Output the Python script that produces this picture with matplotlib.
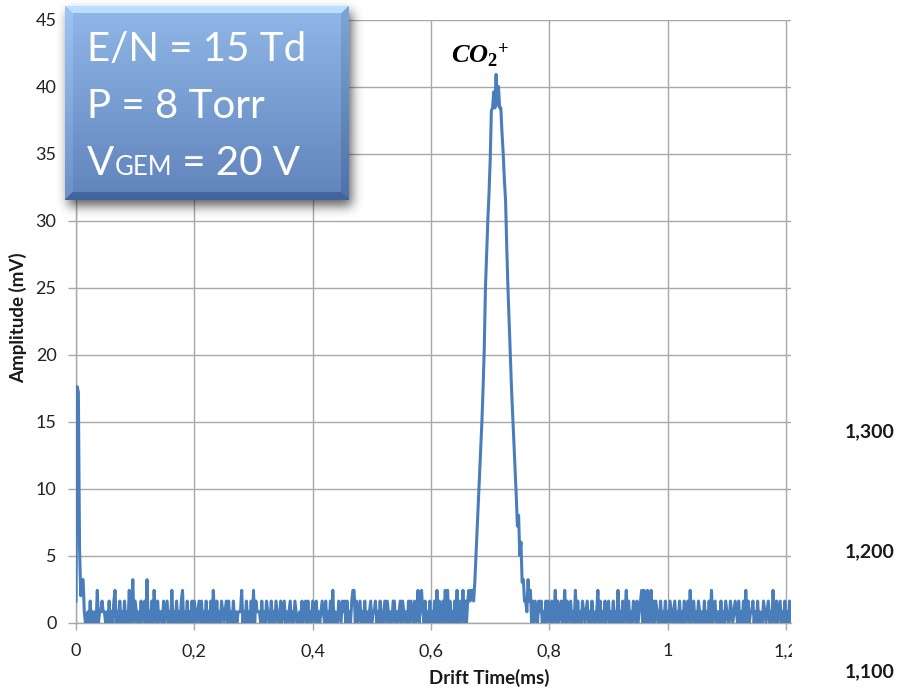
import numpy as np
import matplotlib
matplotlib.use("Agg")
import matplotlib.pyplot as plt
from matplotlib.transforms import Bbox, TransformedBbox

plt.rcParams["mathtext.fontset"] = "custom"
plt.rcParams["mathtext.it"] = "Liberation Serif:italic:bold"
plt.rcParams["mathtext.rm"] = "Liberation Serif:bold"
plt.rcParams["mathtext.bf"] = "Liberation Serif:bold"

W, H = 899, 688
DPI = 100

# ---------------------------------------------------------------- data
sample_step = 0.002   # ms between samples
level_step = 0.8      # mV per digitiser count

# first samples after the trigger (mV)
start_vals = [1.6, 17.6, 17.2, 5.6, 2.0, 3.2, 3.2, 0.8, 0.0]

# baseline before the peak, in digitiser counts
baseline_before = (
    "0102010103" "0112110102" "0102301020" "1020103014" "0210102012"
    "0401020310" "2011020120" "1030102010" "2301020102" "0210120201"
    "0201020310" "2010210120" "2010201011" "1301020102" "0302111020"
    "1021002010" "2100201201" "0120102100" "1020120201" "0210201012"
    "1020102030" "1002102120" "2010233020" "1201020101" "2011201020"
    "0120210102" "2010120210" "1020210201" "3023102010" "2010203020"
    "1203030201" "0203020130" "202323"
)

# CO2+ peak (mV), 0.670 ms to 0.758 ms
peak_vals = [
    2.4, 1.6, 3.0, 5.0, 7.0, 9.0, 11.0, 13.0, 15.0, 17.5,
    20.5, 25.0, 27.5, 30.0, 32.0, 34.5, 38.2, 38.4, 39.6, 38.4,
    40.9, 38.6, 40.0, 38.4, 38.4, 36.5, 35.0, 33.0, 31.5, 28.0,
    25.0, 22.5, 20.0, 17.5, 15.5, 13.5, 11.5, 9.5, 7.2, 8.0,
    5.0, 6.0, 3.0, 3.2, 1.6,
]

# baseline after the peak, in digitiser counts
baseline_after = (
    "2142302021" "0212010202" "1020130201" "2013020120" "1030201021"
    "0120102010" "1302010201" "2010201030" "1020130201" "0210201230"
    "3023013020" "2100201020" "1021012010" "2010201203" "0120102101"
    "0201020301" "2011020102" "1002101210" "2010203020" "1120102010"
    "0210120103" "1020120102" "010201"
)

x_ticks = [0, 0.2, 0.4, 0.6, 0.8, 1.0, 1.2]
x_tick_labels = ["0", "0,2", "0,4", "0,6", "0,8", "1", "1,2"]
y_ticks = [0, 5, 10, 15, 20, 25, 30, 35, 40, 45]
right_labels = ["1,300", "1,200", "1,100"]

x_label = "Drift Time(ms)"
y_label = "Amplitude (mV)"
peak_label = r"$CO_2{}^{+}$"

# ---------------------------------------------------------------- series
amp = (start_vals
       + [int(c) * level_step for c in baseline_before]
       + peak_vals
       + [int(c) * level_step for c in baseline_after])
amp = np.array(amp)
t = np.arange(len(amp)) * sample_step


def fx(px):
    return px / W


def fy(py):
    return 1 - py / H


fig = plt.figure(figsize=(W / DPI, H / DPI), dpi=DPI)
fig.patch.set_facecolor("white")

# ---------------------------------------------------------------- main axes
ax_l, ax_r, ax_t, ax_b = 76, 791, 19.5, 622.5
ax = fig.add_axes([fx(ax_l), fy(ax_b), (ax_r - ax_l) / W, (ax_b - ax_t) / H])
grid_c = "#a8a8a8"
ax.plot(t, amp, color="#4a7ebb", lw=2.2, solid_joinstyle="round", zorder=3)
ax.set_xlim(0, (ax_r - ax_l) / 591.7)
ax.set_ylim(0, 45)
ax.set_xticks(x_ticks)
ax.set_xticklabels(x_tick_labels)
ax.set_yticks(y_ticks)
ax.grid(True, color=grid_c, lw=1.0)
ax.set_axisbelow(True)
for s in ("top", "right"):
    ax.spines[s].set_visible(False)
for s in ("left", "bottom"):
    ax.spines[s].set_color(grid_c)
    ax.spines[s].set_linewidth(1.0)
ax.tick_params(axis="both", colors=grid_c, labelcolor="#222222",
               labelsize=13, width=1.0)
ax.tick_params(axis="y", length=6, pad=8)
ax.tick_params(axis="x", length=5, pad=10)
for lbl in ax.get_xticklabels() + ax.get_yticklabels():
    lbl.set_family("Lato")

# last x tick label is cut at the plot edge
clip = TransformedBbox(Bbox([[0, 0], [792 / W, 1]]), fig.transFigure)
last = ax.get_xticklabels()[-1]
last.set_clip_box(clip)
last.set_clip_on(True)

fig.text(fx(489), fy(678), x_label, ha="center", va="center",
         fontsize=13.5, weight="bold", family="Lato", color="#1a1a1a")
fig.text(fx(18), fy(318), y_label, ha="center", va="center", rotation=90,
         fontsize=13.5, weight="bold", family="Lato", color="#1a1a1a")

for lab, py in zip(right_labels, [432, 552, 672]):
    fig.text(fx(870), fy(py), lab, ha="center", va="center",
             fontsize=14, weight="bold", family="Lato", color="#1a1a1a")

fig.text(fx(451), fy(63), peak_label, ha="left", va="baseline",
         fontsize=19, color="black")

# ---------------------------------------------------------------- info box
bx0, by0, bx1, by1 = 65, 6, 349, 200
bw, bh = bx1 - bx0, by1 - by0

# soft drop shadow
pad = 26
ox, oy = 3, 6
sw, sh = bw + 2 * pad, bh + 2 * pad
mask = np.zeros((sh, sw))
mask[pad:pad + bh, pad:pad + bw] = 1.0
k = np.exp(-0.5 * (np.arange(-16, 17) / 5.5) ** 2)
k /= k.sum()
mask = np.apply_along_axis(lambda r: np.convolve(r, k, mode="same"), 1, mask)
mask = np.apply_along_axis(lambda c: np.convolve(c, k, mode="same"), 0, mask)
shadow = np.zeros((sh, sw, 4))
shadow[..., :3] = 0.12
shadow[..., 3] = 0.7 * mask
sax = fig.add_axes([fx(bx0 - pad + ox), fy(by1 + pad + oy), sw / W, sh / H])
sax.imshow(shadow, aspect="auto", interpolation="bilinear")
sax.axis("off")

# gradient fill with bevelled edges
top_c = np.array([145, 184, 232]) / 255
bot_c = np.array([96, 131, 187]) / 255
yy, xx = np.mgrid[0:bh, 0:bw]
frac = (yy / (bh - 1))[..., None]
img = top_c * (1 - frac) + bot_c * frac
bev = 8
dists = np.stack([yy, bh - 1 - yy, xx, bw - 1 - xx])
side = np.argmin(dists, axis=0)
near = np.min(dists, axis=0) < bev
shift = np.array([0.16, -0.12, 0.05, -0.07])
img = img + (near * shift[side])[..., None]
img = np.clip(img, 0, 1)
bax = fig.add_axes([fx(bx0), fy(by1), bw / W, bh / H])
bax.imshow(img, aspect="auto", interpolation="bilinear")
bax.axis("off")

box_fs = 29
txt_kw = dict(color="white", family="Lato", va="baseline", ha="left")
fig.text(fx(87), fy(61), "E/N = 15 Td", fontsize=box_fs, **txt_kw)
fig.text(fx(87), fy(118), "P = 8 Torr", fontsize=box_fs, **txt_kw)

renderer = fig.canvas.get_renderer()
x_cur = 87
for piece, size in [("V", box_fs), ("GEM", box_fs * 0.64), (" = 20 V", box_fs)]:
    tx = fig.text(fx(x_cur), fy(175), piece, fontsize=size, **txt_kw)
    x_cur += tx.get_window_extent(renderer).width

fig.savefig("out.png", dpi=DPI, facecolor="white")
